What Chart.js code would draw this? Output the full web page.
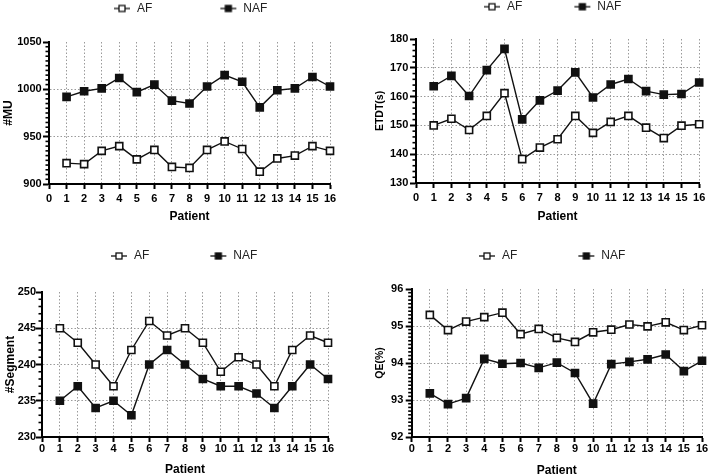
<!DOCTYPE html>
<html>
<head>
<meta charset="utf-8">
<script src="https://cdn.jsdelivr.net/npm/chart.js@4.4.1/dist/chart.umd.min.js"></script>
<style>
html,body{margin:0;padding:0;background:#fff;overflow:hidden;width:709px;height:476px;}
canvas{position:absolute;}
</style>
</head>
<body>
<canvas id="c1"></canvas>
<canvas id="c2"></canvas>
<canvas id="c3"></canvas>
<canvas id="c4"></canvas>
<script>
// ---------- data ----------
const patients = [1, 2, 3, 4, 5, 6, 7, 8, 9, 10, 11, 12, 13, 14, 15, 16];
const seriesNames = ['AF', 'NAF'];
const xTitle = 'Patient';

const muAF  = [922, 921, 935, 940, 926, 936, 918, 917, 936, 945, 937, 913, 927, 930, 940, 935];
const muNAF = [992, 998, 1001, 1012, 997, 1005, 988, 985, 1003, 1015, 1008, 981, 999, 1001, 1013, 1003];

const etdtAF  = [150.0, 152.3, 148.4, 153.3, 161.2, 138.3, 142.3, 145.2, 153.3, 147.4, 151.2, 153.3, 149.2, 145.6, 149.9, 150.4];
const etdtNAF = [163.6, 167.2, 160.2, 169.2, 176.6, 152.1, 158.7, 162.1, 168.4, 159.7, 164.2, 166.1, 161.9, 160.7, 160.9, 164.9];

const segAF  = [245, 243, 240, 237, 242, 246, 244, 245, 243, 239, 241, 240, 237, 242, 244, 243];
const segNAF = [235, 237, 234, 235, 233, 240, 242, 240, 238, 237, 237, 236, 234, 237, 240, 238];

const qeAF  = [95.30, 94.89, 95.12, 95.24, 95.36, 94.78, 94.92, 94.68, 94.57, 94.83, 94.90, 95.04, 94.99, 95.10, 94.89, 95.02];
const qeNAF = [93.18, 92.89, 93.05, 94.11, 93.98, 94.00, 93.87, 94.01, 93.73, 92.90, 93.97, 94.03, 94.10, 94.23, 93.78, 94.06];

const yTitles = ['#MU', 'ETDT(s)', '#Segment', 'QE(%)'];
const yMins   = [900, 130, 230, 92];
const yMaxs   = [1050, 180, 250, 96];
const yMajor  = [50, 10, 5, 1];
const yMinor  = [5, 2, 1, 0.1];
const xMin = 0, xMax = 16, xStep = 1;

const seriesAF  = [muAF, etdtAF, segAF, qeAF];
const seriesNAF = [muNAF, etdtNAF, segNAF, qeNAF];

// ---------- layout (positions / styles) ----------
const panels = [
  {id:'c1', cx:0,   cy:0,   cw:355, ch:240, L:49,   R:330, T:42, B:184, Hx:39.9, xPad:3.7, yPad:1.3, tA:137, tN:243, yc:8.5, yTitleSize:12,   yTitlePad:1.6},
  {id:'c2', cx:355, cy:0,   cw:354, ch:240, L:61,   R:347, T:39, B:183, Hx:40.9, xPad:3.7, yPad:1.7, tA:152, tN:242, yc:6.7, yTitleSize:10.5, yTitlePad:18.7},
  {id:'c3', cx:0,   cy:230, cw:355, ch:260, L:42,   R:328, T:62, B:207, Hx:40.2, xPad:0.2, yPad:0.0, tA:134, tN:233, yc:26,  yTitleSize:12,   yTitlePad:3.8},
  {id:'c4', cx:355, cy:230, cw:354, ch:260, L:56.7, R:347, T:59, B:207, Hx:40.5, xPad:0.0, yPad:2.4, tA:147, tN:246, yc:26,  yTitleSize:10.5, yTitlePad:18.7}
];

Chart.defaults.font.family = '"Liberation Sans", Arial, Helvetica, sans-serif';
Chart.defaults.color = '#000';

const GRID = '#9a9a9a';
const INK = '#111';
const LEG_FONT = 12;

function legendIcon(W, filled) {
  const c = document.createElement('canvas');
  c.width = W; c.height = 12;
  const g = c.getContext('2d');
  g.strokeStyle = INK; g.lineWidth = 1.3;
  g.beginPath(); g.moveTo(W - 17, 6); g.lineTo(W - 1, 6); g.stroke();
  const cx = W - 9;
  g.fillStyle = filled ? INK : '#fff';
  g.fillRect(cx - 3, 3, 6, 6);
  g.lineWidth = 1.3; g.strokeRect(cx - 3, 3, 6, 6);
  return c;
}

const legendPlace = {
  id: 'legendPlace',
  afterLayout(chart, args, opts) {
    const lg = chart.legend;
    if (!lg) return;
    lg.left = opts.left; lg.right = chart.width;
    lg.top = opts.top; lg.bottom = opts.top + 30;
  }
};

const minorTicks = {
  id: 'minorTicks',
  afterDraw(chart, args, opts) {
    const s = chart.scales.y;
    const ctx = chart.ctx;
    ctx.save();
    ctx.strokeStyle = '#000';
    ctx.lineWidth = 1.6;
    const n = Math.round((s.max - s.min) / opts.step);
    for (let i = 1; i < n; i++) {
      const v = s.min + i * opts.step;
      const r = v / opts.major;
      if (Math.abs(r - Math.round(r)) < 1e-6) continue;
      const y = s.getPixelForValue(v);
      ctx.beginPath();
      ctx.moveTo(s.right - opts.len, y);
      ctx.lineTo(s.right, y);
      ctx.stroke();
    }
    ctx.restore();
  }
};

panels.forEach((p, k) => {
  const el = document.getElementById(p.id);
  el.width = p.cw; el.height = p.ch;
  el.style.left = p.cx + 'px'; el.style.top = p.cy + 'px';
  el.style.width = p.cw + 'px'; el.style.height = p.ch + 'px';

  const half = LEG_FONT / 2;
  const W = Math.round(p.tN - p.tA - half - 15.34 - 1);
  const icons = [legendIcon(W, false), legendIcon(W, true)];
  const legendH = LEG_FONT + 1 + 10;

  const toPts = arr => patients.map((x, i) => ({x: x, y: arr[i]}));

  new Chart(el, {
    type: 'line',
    data: {
      datasets: [
        {label: seriesNames[0], data: toPts(seriesAF[k]), borderColor: INK, borderWidth: 1.4,
         pointStyle: 'rect', pointRadius: 5.0, pointHoverRadius: 5.0, pointBorderWidth: 1.6,
         pointBackgroundColor: '#fff', pointBorderColor: INK, tension: 0, clip: false, fill: false},
        {label: seriesNames[1], data: toPts(seriesNAF[k]), borderColor: INK, borderWidth: 1.4,
         pointStyle: 'rect', pointRadius: 5.0, pointHoverRadius: 5.0, pointBorderWidth: 1.6,
         pointBackgroundColor: INK, pointBorderColor: INK, tension: 0, clip: false, fill: false}
      ]
    },
    options: {
      responsive: false,
      animation: false,
      events: [],
      layout: {padding: {left: 0, right: p.cw - p.R, top: p.T - legendH, bottom: p.ch - p.B - p.Hx}},
      plugins: {
        tooltip: {enabled: false},
        title: {display: false},
        legendPlace: {left: p.tA - half - W - 1, top: p.yc - 1 - half},
        minorTicks: {step: yMinor[k], major: yMajor[k], len: 3.5},
        legend: {
          display: true,
          position: 'top',
          align: 'start',
          labels: {
            usePointStyle: true,
            pointStyleWidth: W,
            padding: 1,
            font: {size: LEG_FONT},
            color: '#222',
            generateLabels: chart => chart.data.datasets.map((ds, i) => ({
              text: ds.label, pointStyle: icons[i], fillStyle: 'transparent',
              strokeStyle: 'transparent', lineWidth: 0, hidden: false,
              datasetIndex: i, fontColor: '#222'
            }))
          }
        }
      },
      scales: {
        x: {
          type: 'linear', min: xMin, max: xMax,
          afterFit: s => { s.height = p.Hx; },
          ticks: {stepSize: xStep, autoSkip: false, maxRotation: 0, padding: p.xPad,
                  font: {size: 11, weight: 'bold'}, color: '#000',
                  callback: v => String(v)},
          grid: {
            color: c => (c.tick && c.tick.value === xMin) ? 'rgba(0,0,0,0)' : GRID,
            lineWidth: 1, tickColor: '#000', tickWidth: 2, tickLength: 5
          },
          border: {display: true, color: '#000', width: 2, dash: [1.5, 2]},
          title: {display: true, text: xTitle, font: {size: 12, weight: 'bold'}, color: '#000',
                  padding: {top: 0, bottom: 0}}
        },
        y: {
          type: 'linear', min: yMins[k], max: yMaxs[k],
          afterFit: s => { s.width = p.L; },
          ticks: {stepSize: yMajor[k], padding: p.yPad, font: {size: 11, weight: 'bold'}, color: '#000',
                  callback: v => String(v)},
          grid: {
            color: c => (c.tick && (c.tick.value === yMins[k] || c.tick.value === yMaxs[k])) ? 'rgba(0,0,0,0)' : GRID,
            lineWidth: 1, tickColor: '#000', tickWidth: 2, tickLength: 6
          },
          border: {display: true, color: '#000', width: 2, dash: [1.5, 2]},
          title: {display: true, text: yTitles[k], font: {size: p.yTitleSize, weight: 'bold'}, color: '#000',
                  padding: {top: p.yTitlePad, bottom: 0}}
        }
      }
    },
    plugins: [legendPlace, minorTicks]
  });
});
</script>
</body>
</html>
